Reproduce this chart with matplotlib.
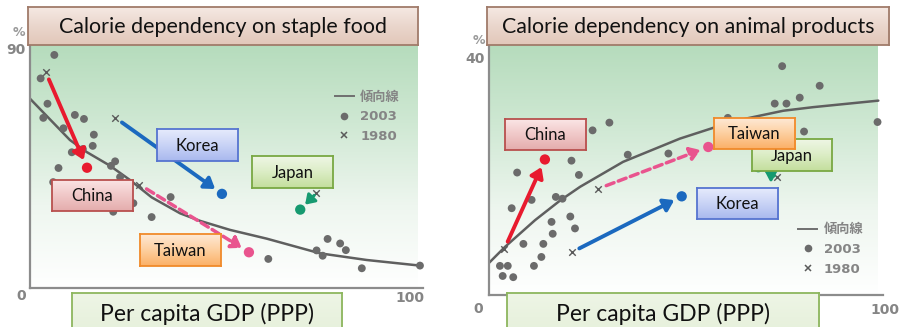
import numpy as np
import matplotlib
matplotlib.use("Agg")
import matplotlib.pyplot as plt
from matplotlib.colors import LinearSegmentedColormap
from matplotlib.lines import Line2D
from matplotlib.font_manager import FontProperties
from matplotlib.transforms import ScaledTranslation

# ---------------- data ----------------
# Staple food dependency (%), per capita GDP (PPP index, US=100), other countries in 2003
staple_gdp = [6.4, 2.8, 4.6, 3.5, 11.8, 14.2, 8.8, 16.8, 16.5, 13.9, 11.0, 7.5, 22.4, 21.3,
              23.7, 6.1, 21.9, 27.2, 32.0, 37.0, 62.7, 78.3, 81.6, 83.1, 75.4, 77.0, 87.3, 102.6]
staple_pct = [87.4, 78.6, 69.1, 63.8, 64.9, 63.4, 59.9, 57.5, 53.3, 52.1, 50.9, 45.0, 47.5, 45.8,
              41.6, 39.7, 28.6, 31.8, 26.6, 34.1, 10.9, 18.4, 16.7, 14.2, 14.1, 12.1, 7.4, 8.4]
staple_trend_gdp = [0, 10.5, 14.9, 21.0, 26.3, 32.0, 39.5, 44.7, 52.6, 62.3, 76.3, 88.6, 102.6]
staple_trend_pct = [71.0, 55.5, 51.0, 45.9, 40.5, 34.0, 28.0, 25.2, 21.8, 18.5, 13.0, 10.5, 8.4]

# Animal products dependency (%), other countries in 2003
animal_gdp = [75.0, 84.6, 73.1, 76.1, 79.5, 99.4, 80.6, 61.1, 26.5, 30.8, 35.5, 45.9, 21.1, 23.0,
              7.2, 10.9, 5.8, 17.1, 18.8, 16.0, 20.8, 22.0, 16.3, 8.8, 13.9, 13.4, 11.5, 2.8,
              4.8, 3.5, 6.2]
animal_pct = [38.5, 35.2, 32.2, 32.2, 33.2, 29.1, 27.5, 29.8, 27.7, 29.0, 23.6, 23.8, 22.6, 20.2,
              20.6, 16.0, 14.6, 16.5, 16.2, 12.3, 13.2, 11.2, 10.3, 8.6, 8.6, 6.4, 4.9, 4.9,
              4.9, 3.2, 3.0]
animal_trend_gdp = [0, 4.1, 11.8, 18.2, 23.3, 34.3, 48.8, 58.2, 65.9, 75.3, 82.9, 99.6]
animal_trend_pct = [5.4, 8.1, 12.6, 15.9, 18.2, 22.4, 26.3, 28.3, 29.7, 31.0, 31.6, 32.7]

countries = ["China", "Korea", "Taiwan", "Japan"]
# (GDP, %) in 1980 and 2003
staple_1980 = {"China": (4.1, 81.1), "Korea": (22.4, 63.9), "Taiwan": (28.8, 38.8), "Japan": (75.3, 35.5)}
staple_2003 = {"China": (15.0, 45.1), "Korea": (50.5, 35.3), "Taiwan": (57.6, 13.4), "Japan": (71.1, 29.4)}
animal_1980 = {"China": (3.9, 7.7), "Korea": (21.2, 7.2), "Taiwan": (28.0, 17.9), "Japan": (73.6, 19.8)}
animal_2003 = {"China": (14.3, 22.8), "Korea": (49.3, 16.6), "Taiwan": (56.1, 24.9), "Japan": (68.9, 21.5)}

# ---------------- style ----------------
W, H = 901, 327
TXT_FONT = ["Lato", "DejaVu Sans"]
LEG_FONT = ["DejaVu Sans", "Noto Sans CJK JP"]
GRAY_TXT = "#858585"
DOT = "#6b6b6b"
CROSS = "#5a5a5a"
country_color = {"China": "#e81a2e", "Korea": "#1b69bf", "Taiwan": "#e9548e", "Japan": "#169a70"}

fig = plt.figure(figsize=(W / 100, H / 100), dpi=100, facecolor="white")


def px_axes(x0, y0, x1, y1, **kw):
    return fig.add_axes([x0 / W, 1 - y1 / H, (x1 - x0) / W, (y1 - y0) / H], **kw)


def gradient_cmap(colors):
    return LinearSegmentedColormap.from_list("g", colors)


ramp = np.linspace(0, 1, 256)[:, None]


def panel(rect, xmax, ymax, grad_frac, ytick, dots_x, dots_y, tr_x, tr_y, p1980, p2003,
          leg_anchor, zero_off, hundred_off, pct_off):
    ax = px_axes(*rect)
    ax.imshow(ramp, cmap=gradient_cmap(["#b4dbbb", "#cfe8d3", "#eef6ef", "#ffffff"]),
              extent=[0, grad_frac, 0, 1], transform=ax.transAxes, aspect="auto",
              zorder=0, interpolation="bilinear")
    ax.set_xlim(0, xmax)
    ax.set_ylim(0, ymax)
    ax.set_facecolor("none")
    for s in ("top", "right"):
        ax.spines[s].set_visible(False)
    for s in ("left", "bottom"):
        ax.spines[s].set_color("#8c8c8c")
        ax.spines[s].set_linewidth(1.6)

    ax.set_yticks([ytick])
    ax.set_yticklabels([str(ytick)])
    ax.set_xticks([100])
    ax.set_xticklabels(["100"])
    ax.tick_params(length=0, labelsize=10, labelcolor=GRAY_TXT, pad=3)
    ax.tick_params(axis="x", pad=2)
    for lab in ax.get_xticklabels() + ax.get_yticklabels():
        lab.set_fontweight("bold")
        lab.set_family("DejaVu Sans")
    for lab in ax.get_xticklabels():
        lab.set_transform(lab.get_transform()
                          + ScaledTranslation(hundred_off[0] / 72, hundred_off[1] / 72,
                                              fig.dpi_scale_trans))
    ax.annotate("0", (0, 0), xytext=zero_off, textcoords="offset points", ha="center",
                va="center", fontsize=10, color=GRAY_TXT, fontweight="bold", annotation_clip=False)
    ax.annotate("%", (0, ytick), xytext=pct_off, textcoords="offset points", ha="center",
                va="center", fontsize=9, color="#9a9a9a", fontweight="bold",
                annotation_clip=False, zorder=10)

    ax.plot(tr_x, tr_y, color="#5f5f5f", lw=1.8, zorder=2, solid_capstyle="round")
    ax.scatter(dots_x, dots_y, s=32, color=DOT, edgecolors="none", zorder=3, clip_on=False)

    for c in countries:
        x0, y0 = p1980[c]
        x1, y1 = p2003[c]
        col = country_color[c]
        ax.scatter([x0], [y0], marker="x", s=22, color=CROSS, linewidths=1.0, zorder=4)
        ax.scatter([x1], [y1], s=55, color=col, edgecolors="none", zorder=5)
        short = c == "Japan"
        props = dict(arrowstyle="-|>,head_length=0.6,head_width=0.4", color=col,
                     lw=2.2 if short else 2.8, mutation_scale=9 if short else 10,
                     shrinkA=2 if short else 6, shrinkB=5 if short else 6)
        if c == "Taiwan":
            props["linestyle"] = (0, (2.4, 1.3))
            props["lw"] = 2.5
        ax.annotate("", xy=(x1, y1), xytext=(x0, y0), arrowprops=props, zorder=4)

    handles = [Line2D([], [], color="#6f6f6f", lw=1.4),
               Line2D([], [], ls="none", marker="o", ms=5.5, color=DOT, mec="none"),
               Line2D([], [], ls="none", marker="x", ms=5, mew=1.1, color=CROSS)]
    leg = ax.legend(handles, ["傾向線", "2003", "1980"], loc="upper left",
                    bbox_to_anchor=leg_anchor, frameon=False, handlelength=1.45,
                    handletextpad=0.5, labelspacing=0.5, borderpad=0, borderaxespad=0,
                    prop=FontProperties(family=LEG_FONT, weight="bold", size=9.5))
    for t in leg.get_texts():
        t.set_color(GRAY_TXT)
    return ax


panel((30, 40, 423, 288), 103.4, 93.0, 0.987, 90, staple_gdp, staple_pct,
      staple_trend_gdp, staple_trend_pct, staple_1980, staple_2003,
      (0.775, 0.796), (-6.5, -6), (0, 0), (-8, 11.5))
panel((489, 40, 883, 295), 100.8, 42.9, 0.987, 40, animal_gdp, animal_pct,
      animal_trend_gdp, animal_trend_pct, animal_1980, animal_2003,
      (0.785, 0.281), (-7.5, -10), (3.5, -3.5), (-7.5, 12))


def box(x0, y0, x1, y1, colors, edge, text, size, text_y=None, lw=1.3):
    bax = px_axes(x0, y0, x1, y1)
    bax.imshow(ramp, cmap=gradient_cmap(colors), extent=[0, 1, 0, 1], aspect="auto",
               interpolation="bilinear")
    bax.set_xlim(0, 1)
    bax.set_ylim(0, 1)
    bax.set_xticks([])
    bax.set_yticks([])
    for s in bax.spines.values():
        s.set_edgecolor(edge)
        s.set_linewidth(lw)
    if text_y is None:
        bax.text(0.5, 0.47, text, ha="center", va="center", fontsize=size, family=TXT_FONT,
                 color="#111111")
    else:
        fig.text((x0 + x1) / 2 / W, 1 - text_y / H, text, ha="center", va="baseline",
                 fontsize=size, family=TXT_FONT, color="#111111")
    return bax


TITLE = (["#f5e9e3", "#ead6cc", "#e2c7b9"], "#a07b6a")
CHINA = (["#fbe6e6", "#f0c8c8", "#e4acac"], "#b8504e")
KOREA = (["#e6ebfc", "#c9d3f6", "#a8b8ee"], "#5674d0")
JAPAN = (["#f0f7e7", "#dcedc6", "#c3de9c"], "#79a843")
TAIWAN = (["#fee9d6", "#fdcf9f", "#fbb066"], "#f08a2a")
GDPBOX = (["#eef5e6", "#e9f2df", "#e6f0da"], "#8db65e")

box(28, 7, 418, 45, *TITLE, "Calorie dependency on staple food", 15.4)
box(487, 7, 889, 45, *TITLE, "Calorie dependency on animal products", 15.4)
box(72, 293, 342, 340, *GDPBOX, "Per capita GDP (PPP)", 16.5, text_y=321)
box(507, 293, 819, 340, *GDPBOX, "Per capita GDP (PPP)", 16.5, text_y=321)

# country labels, staple panel
box(52, 180, 133, 211, *CHINA, "China", 12)
box(157, 129, 238, 161, *KOREA, "Korea", 12)
box(252, 156, 333, 188, *JAPAN, "Japan", 12)
box(140, 234, 221, 266, *TAIWAN, "Taiwan", 12)
# country labels, animal panel
box(505, 119, 586, 150, *CHINA, "China", 12)
box(752, 139, 832, 171, *JAPAN, "Japan", 12)
box(714, 118, 795, 149, *TAIWAN, "Taiwan", 12)
box(697, 188, 778, 219, *KOREA, "Korea", 12)

fig.savefig("out.png", dpi=100, facecolor="white")
